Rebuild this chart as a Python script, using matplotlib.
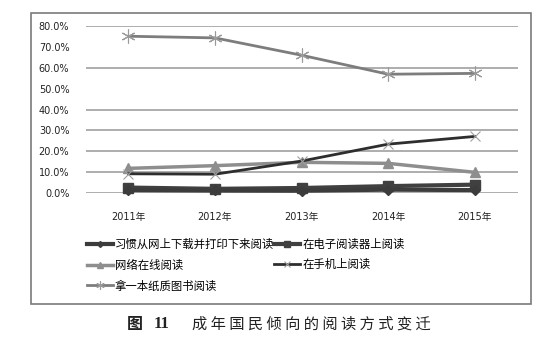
import matplotlib
matplotlib.use("Agg")
import matplotlib.pyplot as plt
from matplotlib.patches import Rectangle

plt.rcParams['font.family'] = ['DejaVu Sans', 'Noto Sans CJK SC']

years = ["2011年", "2012年", "2013年", "2014年", "2015年"]
download_print = [1.4, 1.2, 1.1, 1.6, 1.4]
ereader = [2.6, 2.0, 2.4, 3.3, 4.0]
online = [11.8, 13.1, 14.7, 14.2, 9.9]
mobile = [9.2, 9.0, 15.3, 23.4, 27.1]
paper = [75.1, 74.3, 66.0, 56.9, 57.3]
labels = ["习惯从网上下载并打印下来阅读", "在电子阅读器上阅读", "网络在线阅读", "在手机上阅读", "拿一本纸质图书阅读"]
grid_values = [0, 10, 20, 30, 40, 60, 80]
yticks = [0, 10, 20, 30, 40, 50, 60, 70, 80]

W, H = 550, 352
fig = plt.figure(figsize=(W / 100, H / 100), dpi=100)
ax = fig.add_axes([86 / W, 1 - 193 / H, (518 - 86) / W, (193 - 26) / H])

x = list(range(len(years)))
for g in grid_values:
    ax.axhline(g, color='#a0a0a0', lw=1.2, zorder=1)

l1, = ax.plot(x, download_print, color='#3c3c3c', lw=3, marker='D', ms=5, clip_on=False, zorder=5)
l2, = ax.plot(x, ereader, color='#404040', lw=3, marker='s', ms=7, clip_on=False, zorder=4)
l3, = ax.plot(x, online, color='#8e8e8e', lw=2.5, marker='^', ms=7, clip_on=False, zorder=3)
l4, = ax.plot(x, mobile, color='#2e2e2e', lw=2, marker='x', ms=7, mew=0.8,
              markeredgecolor='#a0a0a0', clip_on=False, zorder=3)
l5, = ax.plot(x, paper, color='#7d7d7d', lw=2, marker=(6, 2, 0), ms=10, mew=0.8,
              markeredgecolor='#9a9a9a', clip_on=False, zorder=3)

ax.set_xlim(-0.49, 4.5)
ax.set_ylim(0, 80)
ax.set_xticks(x)
ax.set_xticklabels(years, fontsize=7, color='#222222')
ax.set_yticks(yticks)
ax.set_yticklabels([f"{v:.1f}%" for v in yticks], fontsize=7, color='#222222')
ax.tick_params(axis='both', length=0)
ax.tick_params(axis='x', pad=14)
ax.tick_params(axis='y', pad=12)
for s in ax.spines.values():
    s.set_visible(False)

handles = [l1, l3, l5, l2, l4]
labs = [labels[0], labels[2], labels[4], labels[1], labels[3]]
fig.legend(handles, labs, ncol=2, loc='upper left',
           bbox_to_anchor=(82 / W, 1 - 234 / H), frameon=False,
           handlelength=2.3, handletextpad=0.2, markerscale=0.6,
           columnspacing=0.0, labelspacing=0.85, borderaxespad=0,
           prop={'family': ['Noto Sans CJK SC'], 'size': 8.2})

fig.patches.append(Rectangle((31 / W, 1 - 304 / H), (531 - 31) / W, (304 - 13) / H,
                             transform=fig.transFigure, fill=False,
                             edgecolor='#7a7a7a', lw=1.2))

fig.text(135 / W, 1 - 324 / H, "图", fontsize=11.5, family='Noto Sans CJK SC',
         weight='bold', ha='center', va='center', color='#222222')
fig.text(162 / W, 1 - 324 / H, "11", fontsize=12, family='Liberation Serif',
         weight='bold', ha='center', va='center', color='#222222')
fig.text(192 / W, 1 - 324 / H, " ".join("成年国民倾向的阅读方式变迁"), fontsize=11,
         family='Noto Sans CJK SC', ha='left', va='center', color='#222222')

fig.savefig("out.png", dpi=100)
